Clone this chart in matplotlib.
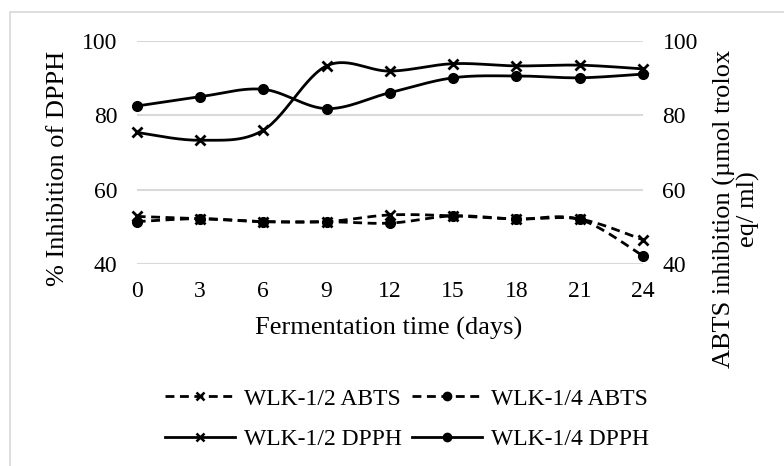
import numpy as np
import matplotlib
matplotlib.use("Agg")
import matplotlib.pyplot as plt
from matplotlib.lines import Line2D
from matplotlib.patches import Rectangle

days = [0, 3, 6, 9, 12, 15, 18, 21, 24]
abts_half = [52.8, 52.2, 51.4, 51.4, 53.2, 52.95, 52.1, 52.1, 46.5]
abts_quarter = [51.4, 52.2, 51.4, 51.4, 51.0, 52.95, 52.1, 52.0, 42.2]
dpph_half = [75.4, 73.3, 76.0, 93.3, 91.9, 93.9, 93.3, 93.5, 92.5]
dpph_quarter = [82.5, 85.0, 87.0, 81.8, 86.1, 90.1, 90.6, 90.1, 91.1]
yticks = [40, 60, 80, 100]

plt.rcParams['font.family'] = ['Liberation Serif', 'DejaVu Serif']


def smooth(x, y, n=30):
    x = np.asarray(x, float)
    y = np.asarray(y, float)
    P = np.column_stack([x, y])
    out = []
    for i in range(len(P) - 1):
        p0 = P[i - 1] if i > 0 else P[i]
        p1 = P[i]
        p2 = P[i + 1]
        p3 = P[i + 2] if i + 2 < len(P) else P[i + 1]
        c1 = p1 + (p2 - p0) / 6.0
        c2 = p2 - (p3 - p1) / 6.0
        t = np.linspace(0, 1, n)[:, None]
        seg = ((1 - t) ** 3) * p1 + 3 * ((1 - t) ** 2) * t * c1 + 3 * (1 - t) * t ** 2 * c2 + t ** 3 * p2
        out.append(seg if i == 0 else seg[1:])
    s = np.vstack(out)
    return s[:, 0], s[:, 1]


fig = plt.figure(figsize=(7.84, 4.66), dpi=100)
fig.add_artist(Rectangle((10 / 784, -0.1), 1.2, 1 - 12 / 466 + 0.1, transform=fig.transFigure,
                         fill=False, edgecolor='#d9d9d9', linewidth=1.2))

ax = fig.add_axes([136.7 / 784, 1 - 264 / 466, (643 - 136.7) / 784, (264 - 41) / 466])
ax2 = ax.twinx()

for a in (ax, ax2):
    a.set_xlim(0, 24)
    a.set_ylim(40, 100)
    a.set_yticks(yticks)
    for s in a.spines.values():
        s.set_visible(False)
    a.tick_params(length=0, labelsize=17, colors='#000000')
    a.patch.set_visible(False)

ax.set_xticks(days)
ax.tick_params(axis='x', pad=12.5)
ax.tick_params(axis='y', pad=14)
ax2.tick_params(axis='y', pad=14)
ax.grid(axis='y', color='#d9d9d9', linewidth=1.5)
ax.set_axisbelow(True)

lw = 2.0
dash = (0, (3.2, 2.0))
series = [
    (ax2, abts_half, dash, 'x', 7, 'WLK-1/2 ABTS'),
    (ax2, abts_quarter, dash, 'o', 7, 'WLK-1/4 ABTS'),
    (ax, dpph_half, '-', 'x', 7, 'WLK-1/2 DPPH'),
    (ax, dpph_quarter, '-', 'o', 7, 'WLK-1/4 DPPH'),
]
handles = {}
for a, vals, ls, mk, ms, lab in series:
    sx, sy = smooth(days, vals)
    a.plot(sx, sy, color='black', linestyle=ls, linewidth=lw, clip_on=False)
    a.plot(days, vals, linestyle='none', marker=mk, markersize=ms, color='black',
           markeredgewidth=2 if mk == 'x' else 1, clip_on=False)
    handles[lab] = Line2D([], [], color='black', linestyle=ls, linewidth=lw, marker=mk,
                          markersize=6, markeredgewidth=1.8 if mk == 'x' else 1)

fig.text(58 / 784, 1 - 168 / 466, '% Inhibition of DPPH', rotation=90, ha='center', va='center', fontsize=19)
fig.text(736.5 / 784, 1 - 209 / 466, 'ABTS inhibition (µmol trolox\neq/ ml)', rotation=90,
         ha='center', va='center', fontsize=19, linespacing=1.1, multialignment='center')
fig.text(389 / 784, 1 - 328 / 466, 'Fermentation time (days)', ha='center', va='center', fontsize=19)

order = ['WLK-1/2 ABTS', 'WLK-1/2 DPPH', 'WLK-1/4 ABTS', 'WLK-1/4 DPPH']
fig.legend([handles[k] for k in order], order, ncol=2, loc='center',
           bbox_to_anchor=(407 / 784, 1 - 419 / 466), frameon=False, fontsize=17,
           handlelength=2.96, handletextpad=0.37, columnspacing=0.47, labelspacing=0.8,
           borderpad=0, borderaxespad=0)

fig.savefig('out.png', dpi=100)
